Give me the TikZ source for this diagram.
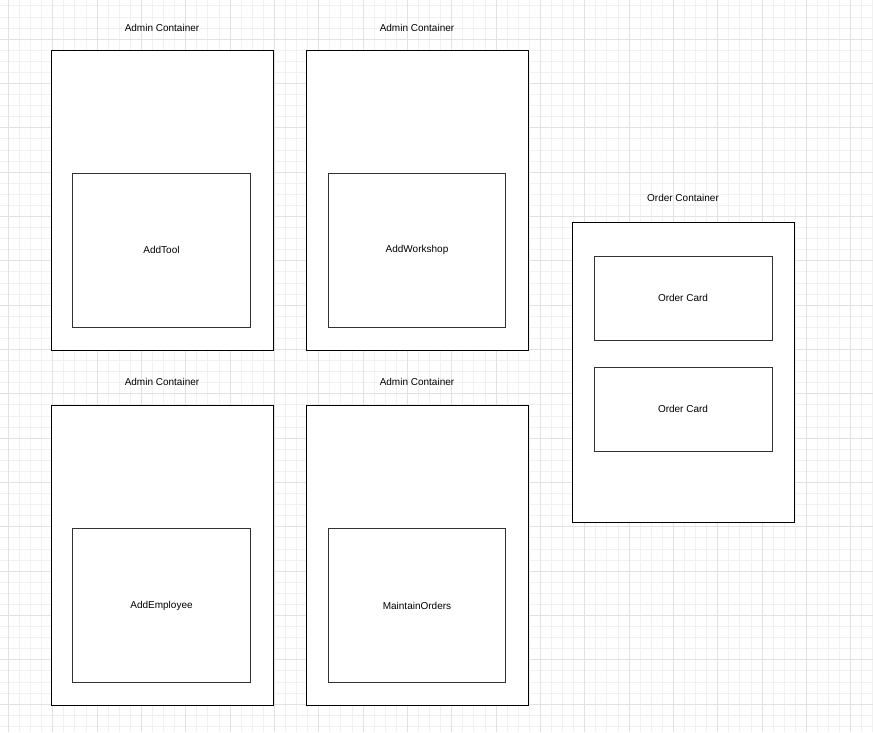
\documentclass[tikz,border=0pt]{standalone}
\usepackage{fontspec}
\setmainfont{Liberation Sans}
\definecolor{gridminor}{HTML}{F1F1F1}
\definecolor{gridmajor}{HTML}{E2E2E2}
\begin{document}
\begin{tikzpicture}[x=0.75pt,y=-0.75pt,
    container/.style={draw=black,line width=0.75pt,fill=white,minimum width=166.5pt,minimum height=224.5pt},
    inner/.style={draw=black!80,line width=0.75pt,fill=white,font=\fontsize{7.5}{9}\selectfont},
    caption/.style={font=\fontsize{7.5}{9}\selectfont,inner sep=0pt}]
      \useasboundingbox (0,0) rectangle (873,732);
      % grid
      \foreach \i in {-1,...,79} {
        \draw[gridminor,line width=0.5pt] (8.3+11.083*\i,0) -- (8.3+11.083*\i,732);
        \draw[gridminor,line width=0.5pt] (0,-5.3+11.083*\i) -- (873,-5.3+11.083*\i);
      }
      \foreach \i in {0,...,20} {
        \draw[gridmajor,line width=0.6pt] (8.3+44.33*\i,0) -- (8.3+44.33*\i,732);
        \draw[gridmajor,line width=0.6pt] (0,-5.3+44.33*\i) -- (873,-5.3+44.33*\i);
      }
      \begin{scope}[every node/.style={}]
        \node[container] (tl) at (162,200.5) {};
        \node[container] (tr) at (417,200.5) {};
        \node[container] (bl) at (162,555.5) {};
        \node[container] (br) at (417,555.5) {};
        \node[container,minimum height=225pt] (order) at (683,372) {};
      \end{scope}
      \begin{scope}[every node/.style={inner,minimum width=133pt,minimum height=115.5pt}]
        \node (addtool) at (161.5,250) {AddTool};
        \node (addworkshop) at (417,250) {AddWorkshop};
        \node (addemployee) at (161.5,605.5) {AddEmployee};
        \node (maintain) at (417,605.5) {MaintainOrders};
      \end{scope}
      \begin{scope}[every node/.style={inner,minimum width=133.5pt,minimum height=63pt}]
        \node (card1) at (683,298) {Order Card};
        \node (card2) at (683,409) {Order Card};
      \end{scope}
      \begin{scope}[every node/.style={caption}]
        \node (tllabel) at (162,28) {Admin Container};
        \node (trlabel) at (417,28) {Admin Container};
        \node (bllabel) at (162,382) {Admin Container};
        \node (brlabel) at (417,382) {Admin Container};
        \node (orderlabel) at (683,198) {Order Container};
      \end{scope}
    \end{tikzpicture}
\end{document}
